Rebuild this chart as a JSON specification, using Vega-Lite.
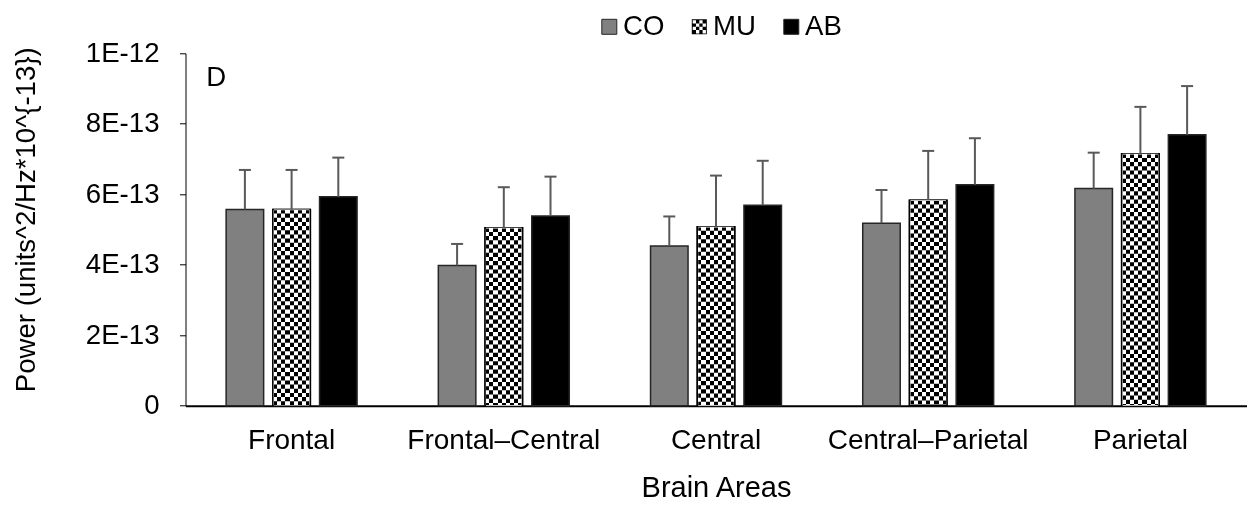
{
  "$schema": "https://vega.github.io/schema/vega-lite/v6.json",
  "width": 1061,
  "height": 352.4,
  "autosize": {"type": "none"},
  "padding": {"left": 185.5, "top": 53.3, "right": 6.5, "bottom": 100.3},
  "background": "white",
  "config": {"view": {"stroke": null}, "font": "Liberation Sans"},
  "data": {
    "values": [
      {"area": "Frontal", "group": "CO", "value": 5.57e-13, "upper": 6.69e-13},
      {"area": "Frontal", "group": "MU", "value": 5.57e-13, "upper": 6.69e-13},
      {"area": "Frontal", "group": "AB", "value": 5.93e-13, "upper": 7.04e-13},
      {"area": "Frontal–Central", "group": "CO", "value": 3.98e-13, "upper": 4.59e-13},
      {"area": "Frontal–Central", "group": "MU", "value": 5.05e-13, "upper": 6.20e-13},
      {"area": "Frontal–Central", "group": "AB", "value": 5.38e-13, "upper": 6.50e-13},
      {"area": "Central", "group": "CO", "value": 4.53e-13, "upper": 5.37e-13},
      {"area": "Central", "group": "MU", "value": 5.08e-13, "upper": 6.53e-13},
      {"area": "Central", "group": "AB", "value": 5.69e-13, "upper": 6.95e-13},
      {"area": "Central–Parietal", "group": "CO", "value": 5.18e-13, "upper": 6.12e-13},
      {"area": "Central–Parietal", "group": "MU", "value": 5.83e-13, "upper": 7.23e-13},
      {"area": "Central–Parietal", "group": "AB", "value": 6.27e-13, "upper": 7.59e-13},
      {"area": "Parietal", "group": "CO", "value": 6.16e-13, "upper": 7.18e-13},
      {"area": "Parietal", "group": "MU", "value": 7.15e-13, "upper": 8.48e-13},
      {"area": "Parietal", "group": "AB", "value": 7.69e-13, "upper": 9.07e-13}
    ]
  },
  "layer": [
    {
      "mark": {"type": "bar", "stroke": "#262626", "strokeWidth": 1.5},
      "encoding": {
        "x": {
          "field": "area", "type": "nominal",
          "scale": {"domain": ["Frontal", "Frontal–Central", "Central", "Central–Parietal", "Parietal"], "paddingInner": 0.383, "paddingOuter": 0.1915},
          "axis": {"title": "Brain Areas", "ticks": false, "labelAngle": 0, "labelLimit": 0, "labelFontSize": 28, "labelPadding": 21, "labelColor": "#000000", "domainColor": "#000000", "domainWidth": 2, "titleFontSize": 29, "titleFontWeight": "normal", "titleColor": "#000000", "titlePadding": 19}
        },
        "xOffset": {"field": "group", "type": "nominal", "scale": {"domain": ["CO", "MU", "AB"], "paddingInner": 0.197, "paddingOuter": 0}},
        "y": {
          "field": "value", "type": "quantitative",
          "scale": {"domain": [0, 1e-12], "nice": false},
          "axis": {"title": "Power (units^2/Hz*10^{-13})", "values": [0, 2e-13, 4e-13, 6e-13, 8e-13, 1e-12], "labelExpr": "datum.value == 0 ? '0' : replace(format(datum.value, '.0e'), 'e', 'E')", "grid": false, "domainColor": "#000000", "domainWidth": 1, "tickColor": "#000000", "tickSize": 6, "labelFontSize": 27.6, "labelColor": "#000000", "labelPadding": 20.5, "titleFontSize": 27.6, "titleFontWeight": "normal", "titleColor": "#000000", "titlePadding": 45, "titleY": 166}
        },
        "color": {
          "field": "group", "type": "nominal",
          "scale": {"domain": ["CO", "MU", "AB"], "range": ["#808080", "#000000", "#000000"]},
          "legend": {
            "orient": "none", "legendX": 410, "legendY": -40.6, "direction": "horizontal", "title": null,
            "symbolType": "square", "symbolSize": 225, "symbolStrokeColor": "#262626", "symbolStrokeWidth": 1,
            "labelFontSize": 27.6, "labelColor": "#000000", "labelOffset": 0, "columnPadding": 21, "padding": 0,
            "encode": {"symbols": {"update": {
              "shape": {"signal": "datum.value === 'MU' ? 'M-1,-1L1,-1L1,1L-1,1Z M-0.88,-0.88L-0.88,-0.44L-0.44,-0.44L-0.44,-0.88Z M0,-0.88L0,-0.44L0.44,-0.44L0.44,-0.88Z M-0.44,-0.44L-0.44,0L0,0L0,-0.44Z M0.44,-0.44L0.44,0L0.88,0L0.88,-0.44Z M-0.88,0L-0.88,0.44L-0.44,0.44L-0.44,0Z M0,0L0,0.44L0.44,0.44L0.44,0Z M-0.44,0.44L-0.44,0.88L0,0.88L0,0.44Z M0.44,0.44L0.44,0.88L0.88,0.88L0.88,0.44Z' : 'square'"},
              "strokeWidth": {"signal": "datum.value === 'MU' ? 0 : 1"}
            }}}
          }
        }
      }
    },
    {
      "transform": [{"filter": "datum.group === 'MU'"}],
      "mark": {
        "type": "bar", "stroke": "#000000", "strokeWidth": 1.5,
        "fill": {"gradient": "linear", "x1": 0, "y1": 0, "x2": 1, "y2": 0, "stops": [
          {"offset": 0, "color": "#ffffff"}, {"offset": 0.1111, "color": "#ffffff"},
          {"offset": 0.1111, "color": "#000000"}, {"offset": 0.2222, "color": "#000000"},
          {"offset": 0.2222, "color": "#ffffff"}, {"offset": 0.3333, "color": "#ffffff"},
          {"offset": 0.3333, "color": "#000000"}, {"offset": 0.4444, "color": "#000000"},
          {"offset": 0.4444, "color": "#ffffff"}, {"offset": 0.5556, "color": "#ffffff"},
          {"offset": 0.5556, "color": "#000000"}, {"offset": 0.6667, "color": "#000000"},
          {"offset": 0.6667, "color": "#ffffff"}, {"offset": 0.7778, "color": "#ffffff"},
          {"offset": 0.7778, "color": "#000000"}, {"offset": 0.8889, "color": "#000000"},
          {"offset": 0.8889, "color": "#ffffff"}, {"offset": 1, "color": "#ffffff"}
        ]}
      },
      "encoding": {
        "x": {"field": "area", "type": "nominal"},
        "xOffset": {"field": "group", "type": "nominal"},
        "y": {"field": "value", "type": "quantitative"}
      }
    },
    {
      "transform": [{"filter": "datum.group === 'MU'"}],
      "mark": {"type": "rule", "stroke": "#ffffff", "strokeWidth": 35.5, "strokeDash": [4.17, 4.17], "blend": "difference"},
      "encoding": {
        "x": {"field": "area", "type": "nominal"},
        "xOffset": {"field": "group", "type": "nominal"},
        "y": {"field": "value", "type": "quantitative"},
        "y2": {"datum": 0}
      }
    },
    {
      "mark": {"type": "rule", "stroke": "#595959", "strokeWidth": 2},
      "encoding": {
        "x": {"field": "area", "type": "nominal"},
        "xOffset": {"field": "group", "type": "nominal"},
        "y": {"field": "value", "type": "quantitative"},
        "y2": {"field": "upper"}
      }
    },
    {
      "mark": {"type": "tick", "color": "#595959", "size": 12, "thickness": 2, "orient": "horizontal", "opacity": 1},
      "encoding": {
        "x": {"field": "area", "type": "nominal"},
        "xOffset": {"field": "group", "type": "nominal"},
        "y": {"field": "upper", "type": "quantitative"}
      }
    },
    {
      "data": {"values": [{"panel": "D"}]},
      "mark": {"type": "text", "align": "left", "baseline": "alphabetic", "dx": -20, "dy": 33, "fontSize": 27.6, "color": "#000000"},
      "encoding": {
        "x": {"datum": "Frontal", "type": "nominal", "bandPosition": 0},
        "y": {"datum": 1e-12, "type": "quantitative"},
        "text": {"field": "panel"}
      }
    }
  ]
}
